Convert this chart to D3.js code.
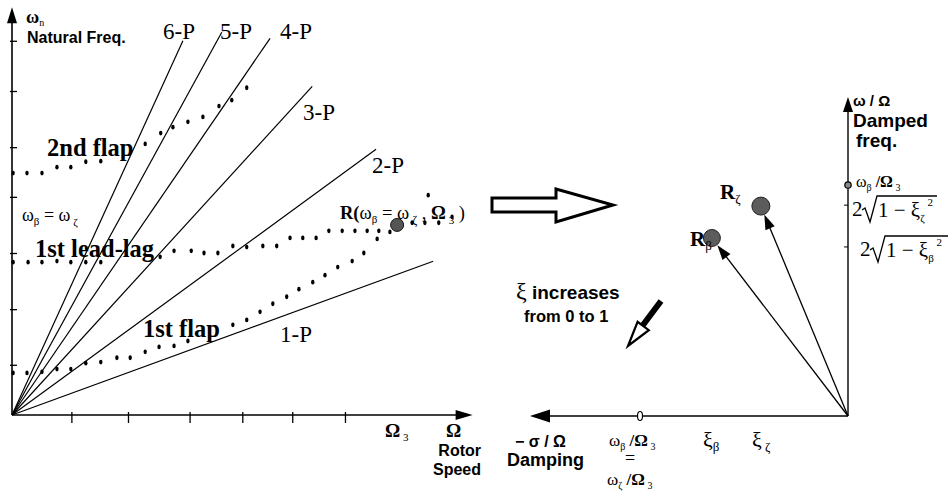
<!DOCTYPE html>
<html>
<head>
<meta charset="utf-8">
<script src="https://cdn.jsdelivr.net/npm/d3@7"></script>
<style>
  body { margin: 0; background: #fff; }
  text { fill: #000; }
  .serif { font-family: "Liberation Serif", "Times New Roman", serif; }
  .sans  { font-family: "Liberation Sans", Arial, sans-serif; font-weight: bold; }
</style>
</head>
<body>
<svg id="chart" width="949" height="491"></svg>
<script>
// ---- left panel: natural frequency vs rotor speed ----
const xTicks = [1.07, 2.09, 3.2, 4.15, 5.05, 6.0];
const yTicks = [0.93, 1.96, 3.0, 4.04, 4.96, 6.0, 6.93];

const perRevOrders = [1, 2, 3, 4, 5, 6];
const perRevEnds   = [7.59, 6.56, 5.41, 4.65, 3.78, 3.08];   // rotor speed where each n-P line stops
const perRevSlope  = 0.375;

const flap2 = [[0.02,4.48],[0.27,4.48],[0.54,4.48],[0.81,4.59],[1.06,4.59],[1.33,4.69],[1.60,4.70],
  [2.40,5.02],[2.68,5.22],[2.90,5.33],[3.17,5.43],[3.44,5.52],[3.73,5.72],[3.96,5.83],[4.23,6.06]];
const leadLag1 = [[0.02,2.83],[0.29,2.83],[0.54,2.83],[0.81,2.85],[1.06,2.83],[1.33,2.83],[1.60,2.83],
  [2.67,2.93],[2.92,3.04],[3.23,3.04],[3.46,3.0],[3.71,3.0],[3.98,3.13],[4.23,3.11],[4.52,3.13],[4.77,3.13],
  [5.01,3.28],[5.24,3.28],[5.48,3.28],[5.71,3.41],[5.95,3.41],[6.18,3.41],[6.40,3.41],[6.61,3.41],[6.81,3.39],
  [7.21,3.56],[7.44,3.56],[7.69,3.56],[7.93,3.67]];
const flap1 = [[0.02,0.78],[0.27,0.78],[0.54,0.80],[0.81,0.85],[1.06,0.85],[1.33,0.96],[1.60,0.98],
  [1.89,1.06],[2.13,1.06],[2.40,1.17],[2.65,1.26],[2.92,1.28],[3.17,1.37],
  [3.98,1.67],[4.23,1.76],[4.47,1.91],[4.70,2.06],[4.95,2.19],[5.17,2.33],[5.42,2.46],[5.64,2.59],
  [5.87,2.74],[6.13,2.85],[6.34,3.0],[6.58,3.26],[7.50,4.07]];

const omega3 = 6.94;          // rotor speed of coalescence
const coalescenceFreq = 3.52;

// ---- right panel: damping / damped frequency ----
const rootNames   = ['β', 'ζ'];
const rootDamping = [0.428, 0.274];
const rootFreq    = [0.558, 0.658];
const freqTicks   = [0.661, 0.530];
const uncoupledFreq = 0.724;     // ωβ/Ω3 on the frequency axis
const uncoupledDamp = 0.654;     // ωβ/Ω3 = ωζ/Ω3 on the damping axis

const svg = d3.select('#chart');

const x = d3.scaleLinear().domain([0, 8.3]).range([12, 472.6]);
const y = d3.scaleLinear().domain([0, 7.55]).range([415, 7.3]);

const xR = d3.scaleLinear().domain([0, 1]).range([848, 530]);
const yR = d3.scaleLinear().domain([0, 1]).range([416, 97]);

const arrowHead = (tipX, tipY, dx, dy, len, half) => {
    // dx,dy: unit direction the arrow points to
    const bx = tipX - dx * len, by = tipY - dy * len;
    return `M${tipX},${tipY}L${bx - dy * half},${by + dx * half}L${bx + dy * half},${by - dx * half}Z`;
};

// left axes
const gx = svg.append('g')
    .attr('transform', `translate(0,${y(0)})`)
    .call(d3.axisBottom(x).tickValues(xTicks).tickSize(11).tickFormat(''));
gx.select('.domain').remove();
gx.selectAll('.tick line').attr('y1', -3).attr('y2', 8).attr('stroke-width', 1.3);

const gy = svg.append('g')
    .attr('transform', `translate(${x(0)},0)`)
    .call(d3.axisRight(y).tickValues(yTicks).tickSize(5).tickFormat(''));
gy.select('.domain').remove();
gy.selectAll('.tick line').attr('x1', -2).attr('stroke-width', 1.3);

svg.append('line').attr('x1', x(0)).attr('y1', y(0)).attr('x2', x(8.3) - 12).attr('y2', y(0))
    .attr('stroke', '#000').attr('stroke-width', 1.6);
svg.append('path').attr('d', arrowHead(x(8.3), y(0), 1, 0, 17, 5));
svg.append('line').attr('x1', x(0)).attr('y1', y(0)).attr('x2', x(0)).attr('y2', y(7.55) + 12)
    .attr('stroke', '#000').attr('stroke-width', 1.6);
svg.append('path').attr('d', arrowHead(x(0), y(7.55), 0, -1, 16, 5));

// n-P lines
svg.append('g').selectAll('line')
    .data(perRevOrders)
    .join('line')
    .attr('x1', x(0)).attr('y1', y(0))
    .attr('x2', (n, i) => x(perRevEnds[i]))
    .attr('y2', (n, i) => y(n * perRevSlope * perRevEnds[i]))
    .attr('stroke', '#000').attr('stroke-width', 1.2);

const perRevLabelPos = [[280, 342], [372, 173], [303, 120], [280, 39], [220, 39], [163, 39]];
svg.append('g').selectAll('text')
    .data(perRevOrders)
    .join('text')
    .attr('class', 'serif')
    .attr('font-size', 23)
    .attr('x', (n, i) => perRevLabelPos[i][0])
    .attr('y', (n, i) => perRevLabelPos[i][1])
    .text(n => `${n}-P`);

// dotted frequency curves
[flap2, leadLag1, flap1].forEach(series => {
    svg.append('g').selectAll('ellipse')
        .data(series)
        .join('ellipse')
        .attr('cx', d => x(d[0]))
        .attr('cy', d => y(d[1]))
        .attr('rx', 1.7).attr('ry', 2.4)
        .attr('fill', '#000');
});

svg.append('circle')
    .attr('cx', x(omega3)).attr('cy', y(coalescenceFreq)).attr('r', 6.5)
    .attr('fill', '#555').attr('stroke', '#111').attr('stroke-width', 1);

// text helper: parts are tspans with optional size / shift / weight
const lab = (cls, size, tx, ty, parts, anchor) => {
    const t = svg.append('text').attr('class', cls).attr('font-size', size)
        .attr('x', tx).attr('y', ty).attr('text-anchor', anchor || 'start');
    parts.forEach(p => {
        const s = t.append('tspan').text(p.t);
        if (p.size) s.attr('font-size', p.size);
        if (p.dy) s.attr('dy', p.dy);
        if (p.w) s.attr('font-weight', p.w);
        if (p.fam) s.attr('class', p.fam);
    });
    return t;
};

lab('serif', 18, 26, 23, [{ t: 'ω', w: 'bold' }, { t: 'n', size: 10, dy: 3 }]);
lab('sans', 16, 27, 43, [{ t: 'Natural Freq.' }]);
lab('serif', 24.5, 47, 156, [{ t: '2nd flap' }]).attr('font-weight', 'bold');
lab('serif', 18, 22, 221, [{ t: 'ω' }, { t: 'β', size: 11, dy: 4 }, { t: ' = ω', dy: -4 }, { t: ' ζ', size: 11, dy: 5 }]);
lab('serif', 24.5, 35, 257, [{ t: '1st lead-lag' }]).attr('font-weight', 'bold');
lab('serif', 24.5, 143, 337, [{ t: '1st flap' }]).attr('font-weight', 'bold');
lab('serif', 18.5, 340, 219, [{ t: 'R(', w: 'bold' }, { t: 'ω' }, { t: 'β', size: 11, dy: 4 },
    { t: ' = ω', dy: -4 }, { t: ' ζ', size: 12, dy: 5 }, { t: ' , ', dy: -5 }, { t: 'Ω', w: 'bold' },
    { t: ' 3', size: 11, dy: 5 }, { t: ' )', dy: -5 }]);
lab('serif', 19, 385, 437, [{ t: 'Ω', w: 'bold' }, { t: ' 3', size: 11, dy: 4 }]);
lab('serif', 19, 446, 437, [{ t: 'Ω', w: 'bold' }]);
lab('sans', 16, 481, 456, [{ t: 'Rotor' }], 'end');
lab('sans', 16, 481, 475, [{ t: 'Speed' }], 'end');

// hollow transition arrow
svg.append('path')
    .attr('d', 'M492,198L556,198L556,189L613,205L556,222L556,212L492,212Z')
    .attr('fill', '#fff').attr('stroke', '#000').attr('stroke-width', 3).attr('stroke-linejoin', 'miter');

// ---- right panel ----
svg.append('line').attr('x1', xR(0)).attr('y1', yR(0)).attr('x2', xR(1) + 16).attr('y2', yR(0))
    .attr('stroke', '#000').attr('stroke-width', 1.4);
svg.append('path').attr('d', arrowHead(xR(1), yR(0), -1, 0, 20, 6.5));
svg.append('line').attr('x1', xR(0)).attr('y1', yR(0)).attr('x2', xR(0)).attr('y2', yR(1) + 12)
    .attr('stroke', '#000').attr('stroke-width', 1.4);
svg.append('path').attr('d', arrowHead(xR(0), yR(1), 0, -1, 15, 5));

svg.append('g').selectAll('line')
    .data(freqTicks)
    .join('line')
    .attr('x1', xR(0) - 4).attr('x2', xR(0))
    .attr('y1', d => yR(d)).attr('y2', d => yR(d))
    .attr('stroke', '#000');

svg.append('circle').attr('cx', xR(0)).attr('cy', yR(uncoupledFreq)).attr('r', 3.2)
    .attr('fill', '#888').attr('stroke', '#000').attr('stroke-width', 1.2);
svg.append('ellipse').attr('cx', xR(uncoupledDamp)).attr('cy', yR(0)).attr('rx', 2.5).attr('ry', 4.5)
    .attr('fill', '#fff').attr('stroke', '#000').attr('stroke-width', 1.2);

// root vectors
const roots = rootNames.map((name, i) => ({ name, damp: rootDamping[i], freq: rootFreq[i] }));
roots.forEach(r => {
    const x0 = xR(0), y0 = yR(0), x1 = xR(r.damp), y1 = yR(r.freq);
    const len = Math.hypot(x1 - x0, y1 - y0);
    const ux = (x1 - x0) / len, uy = (y1 - y0) / len;
    const tipX = x1 - ux * 9, tipY = y1 - uy * 9;
    svg.append('line').attr('x1', x0).attr('y1', y0).attr('x2', tipX - ux * 10).attr('y2', tipY - uy * 10)
        .attr('stroke', '#000').attr('stroke-width', 1.3);
    svg.append('path').attr('d', arrowHead(tipX, tipY, ux, uy, 15, 5));
    svg.append('circle').attr('cx', x1).attr('cy', y1).attr('r', r.name === 'ζ' ? 9 : 8.5)
        .attr('fill', '#5c5c5c').attr('stroke', '#222').attr('stroke-width', 1);
});

lab('serif', 21, 720, 199, [{ t: 'R', w: 'bold' }, { t: 'ζ', size: 13, dy: 4 }]);
lab('serif', 21, 690, 246, [{ t: 'R', w: 'bold' }, { t: 'β', size: 13, dy: 4 }]);

lab('serif', 22, 703, 447, [{ t: 'ξ' }, { t: 'β', size: 13, dy: 4 }]);
lab('serif', 22, 752, 447, [{ t: 'ξ' }, { t: ' ζ', size: 13, dy: 4 }]);

lab('sans', 16, 515, 447, [{ t: '− σ / Ω' }]);
lab('sans', 18, 507, 466, [{ t: 'Damping' }]);
lab('serif', 17, 609, 446, [{ t: 'ω' }, { t: 'β', size: 10, dy: 4 }, { t: ' /Ω', dy: -4, w: 'bold' }, { t: ' 3', size: 10, dy: 4 }]);
lab('serif', 18, 630, 464, [{ t: '=' }], 'middle');
lab('serif', 17, 607, 485, [{ t: 'ω' }, { t: 'ζ', size: 10, dy: 4 }, { t: ' /Ω', dy: -4, w: 'bold' }, { t: ' 3', size: 10, dy: 4 }]);

lab('sans', 15, 853, 106, [{ t: 'ω / Ω' }]);
lab('sans', 19, 853, 127, [{ t: 'Damped' }]);
lab('sans', 19, 856, 147, [{ t: 'freq.' }]);
lab('serif', 16, 856, 187, [{ t: 'ω' }, { t: 'β', size: 10, dy: 4 }, { t: ' /Ω', dy: -4, w: 'bold' }, { t: ' 3', size: 10, dy: 4 }]);

// 2 sqrt(1 - xi^2) labels
const radical = (x0, base, sub, endX) => {
    lab('serif', 21, x0, base, [{ t: '2' }]);
    svg.append('path')
        .attr('d', `M${x0 + 10},${base - 6}L${x0 + 13},${base - 8}L${x0 + 18},${base + 6}L${x0 + 25},${base - 20}L${endX},${base - 20}`)
        .attr('fill', 'none').attr('stroke', '#000').attr('stroke-width', 1.3);
    lab('serif', 21, x0 + 26, base + 1, [{ t: '1 − ξ' }, { t: sub, size: 11, dy: 5 },
        { t: ' 2', size: 11, dy: -16 }]);
};
radical(852, 216, 'ζ', 937);
radical(860, 256, 'β', 948);

// xi increases note
lab('sans', 19, 516, 299, [{ t: 'ξ', fam: 'serif', size: 24, w: 'normal' }, { t: ' increases' }]);
lab('sans', 16.5, 524, 322, [{ t: 'from 0 to 1' }]);
svg.append('line').attr('x1', 661).attr('y1', 301).attr('x2', 643).attr('y2', 325)
    .attr('stroke', '#000').attr('stroke-width', 6);
svg.append('path').attr('d', 'M628,346L637.6,321.8L648.8,330.2Z')
    .attr('fill', '#fff').attr('stroke', '#000').attr('stroke-width', 2.2).attr('stroke-linejoin', 'miter');
</script>
</body>
</html>
